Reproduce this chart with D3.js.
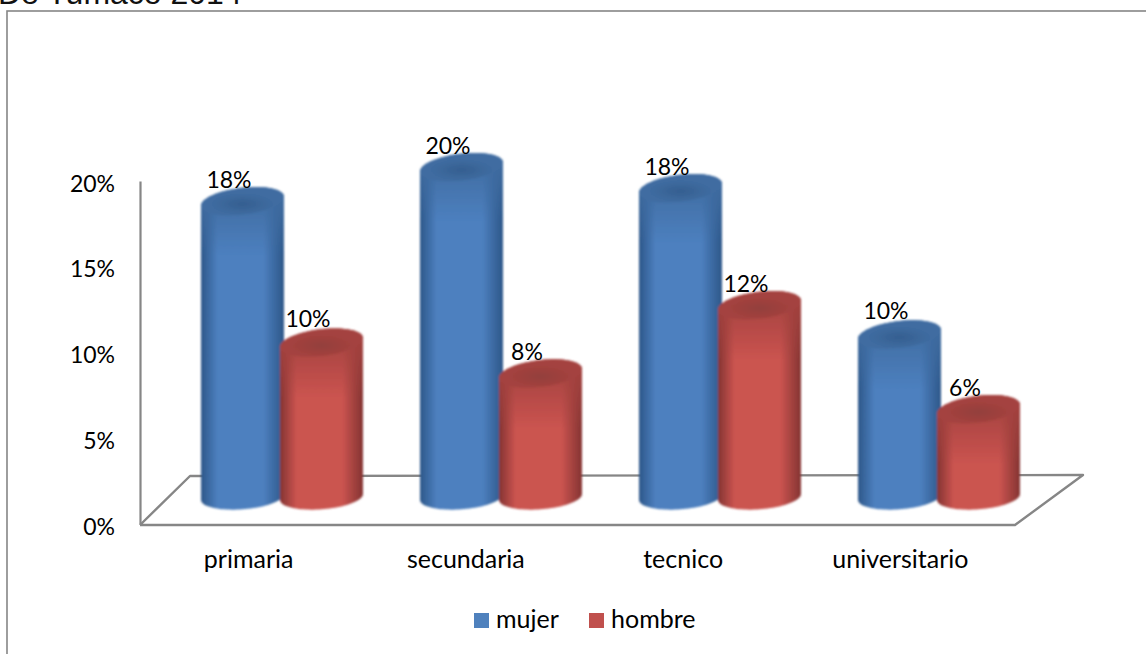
<!DOCTYPE html>
<html><head><meta charset="utf-8">
<style>html,body{margin:0;padding:0;background:#fff;overflow:hidden}svg{display:block}</style>
<script src="https://cdn.jsdelivr.net/npm/d3@7"></script></head>
<body><svg id="c" width="1146" height="654"></svg>
<script>
const categories = ["primaria","secundaria","tecnico","universitario"];
const seriesNames = ["mujer","hombre"];
const mujer = [18.2,20.3,19,10];
const hombre = [9.5,7.6,11.8,5.4];
const mujerLabels = ["18%","20%","18%","10%"];
const hombreLabels = ["10%","8%","12%","6%"];
const yTicks = [0,5,10,15,20];
const titleText = "De Tumaco 2014";
const colors = {mujer:["#2d5789","#4d80bf","#3f6ca1","#355f90","#4f81bd"],hombre:["#843432","#cb5450","#a4423f","#93403c","#c0504d"]};
const font = "Lato, sans-serif";
const gray = "#868686";

const svg = d3.select("#c");
const defs = svg.append("defs");
defs.append("filter").attr("id","soft").attr("x","-5%").attr("width","110%").attr("y","-5%").attr("height","110%")
  .append("feGaussianBlur").attr("stdDeviation",0.8);
seriesNames.forEach(s=>{
  const c = colors[s];
  const g = defs.append("linearGradient").attr("id","side-"+s);
  [[0,c[0]],[0.2,c[1]],[0.5,c[1]],[0.75,c[1]],[1,c[0]]].forEach(([o,k])=>g.append("stop").attr("offset",o).attr("stop-color",k));
  const t = defs.append("radialGradient").attr("id","top-"+s).attr("cx","50%").attr("cy","60%").attr("r","55%");
  [[0,c[3]],[0.7,c[2]],[1,c[2]]].forEach(([o,k])=>t.append("stop").attr("offset",o).attr("stop-color",k));
});

// frame + clipped title
svg.append("rect").attr("x",7).attr("y",11).attr("width",1200).attr("height",700)
  .attr("fill","#fff").attr("stroke",gray).attr("stroke-width",1.6);
svg.append("text").text(titleText).attr("x",-2).attr("y",4)
  .attr("font-family","Liberation Sans, Arial, sans-serif").attr("font-size",32).attr("fill","#111");

// scales
const yAxisScale = d3.scaleLinear().domain([0,20]).range([524,181]);
const yBar = d3.scaleLinear().domain([0,20]).range([497,172]);
const xLabel = d3.scaleBand().domain(categories).range([140,1009]);
const xGroup = d3.scaleBand().domain(categories).range([172.5,1048.5]);
const xSeries = d3.scaleBand().domain(seriesNames).range([-79,79]);
const rx = xSeries.bandwidth()/2 + 2;

// floor
const floorFront = [140,1015], floorBack = [190,1083];
const yFront = yAxisScale(0)+1, yBack = 475;
const line = d3.line();
svg.append("path").attr("d",line([[floorFront[0],yFront],[floorBack[0],yBack+1],[floorBack[1],yBack],[floorFront[1],yFront],[floorFront[0],yFront]]))
  .attr("fill","none").attr("stroke",gray).attr("stroke-width",2.4).attr("stroke-linejoin","round");

// axes
const yAxis = svg.append("g").attr("transform","translate(140,0)")
  .call(d3.axisLeft(yAxisScale).tickValues(yTicks).tickSize(0).tickPadding(25).tickFormat(d=>d+"%"));
yAxis.select(".domain").attr("stroke",gray).attr("stroke-width",2.2);
yAxis.selectAll("text").attr("font-family",font).attr("font-size",23).attr("fill","#000").attr("dy","0.44em");

const xAxis = svg.append("g").attr("transform","translate(0,550)")
  .call(d3.axisBottom(xLabel).tickSize(0).tickPadding(0));
xAxis.select(".domain").remove();
xAxis.selectAll("text").attr("font-family",font).attr("font-size",25).attr("fill","#000").attr("dy","0.71em");

// cylinders
const ellipse = (cx,cy,ry,dy,from,to)=>{
  const n=48, pts=[];
  for(let i=0;i<=n;i++){const t=from+(to-from)*i/n;pts.push([cx+rx*Math.cos(t),cy-dy*Math.cos(t)+ry*Math.sin(t)]);}
  return pts;
};
const rowsOf = s => s==="mujer"?mujer:hombre;
const bars = svg.append("g").attr("filter","url(#soft)");
categories.forEach((cat,i)=>{
  seriesNames.forEach(s=>{
    const cx = xGroup(cat)+xGroup.bandwidth()/2 + xSeries(s)+xSeries.bandwidth()/2;
    const cy = yBar(rowsOf(s)[i]), base = yBar(0);
    const bottom = ellipse(cx,base,12.3,3,0,Math.PI);
    const topBack = ellipse(cx,cy,13.5,4.5,Math.PI,2*Math.PI);
    const side = line(bottom.concat(topBack))+"Z";
    bars.append("path").attr("d",side).attr("fill",`url(#side-${s})`);
    // soft shade under the lid
    const shadeId = `shade-${s}-${i}`;
    const sh = defs.append("linearGradient").attr("id",shadeId).attr("gradientUnits","userSpaceOnUse")
      .attr("x1",0).attr("x2",0).attr("y1",cy).attr("y2",cy+55);
    sh.append("stop").attr("offset",0).attr("stop-color",colors[s][2]).attr("stop-opacity",0.9);
    sh.append("stop").attr("offset",1).attr("stop-color",colors[s][2]).attr("stop-opacity",0);
    bars.append("path").attr("d",side).attr("fill",`url(#${shadeId})`);
    bars.append("path").attr("d",line(ellipse(cx,cy,13.5,4.5,0,2*Math.PI))+"Z").attr("fill",`url(#top-${s})`);
  });
});

// data labels
const labelLift = l => l==="10%" ? 16 : 13.5;
categories.forEach((cat,i)=>{
  seriesNames.forEach(s=>{
    const cx = xGroup(cat)+xGroup.bandwidth()/2 + xSeries(s)+xSeries.bandwidth()/2;
    const lab = s==="mujer"?mujerLabels[i]:hombreLabels[i];
    svg.append("text").text(lab).attr("x",cx-13.5).attr("y",yBar(rowsOf(s)[i])-labelLift(lab)).attr("text-anchor","middle")
      .attr("font-family",font).attr("font-size",23).attr("fill","#000");
  });
});

// legend
const legendX = d3.scaleOrdinal().domain(seriesNames).range([474,589]);
const lg = svg.append("g");
seriesNames.forEach(s=>{
  lg.append("rect").attr("x",legendX(s)).attr("y",613).attr("width",15).attr("height",15).attr("fill",colors[s][4]);
  lg.append("text").text(s).attr("x",legendX(s)+22).attr("y",628).attr("font-family",font).attr("font-size",25).attr("fill","#000");
});
</script></body></html>
